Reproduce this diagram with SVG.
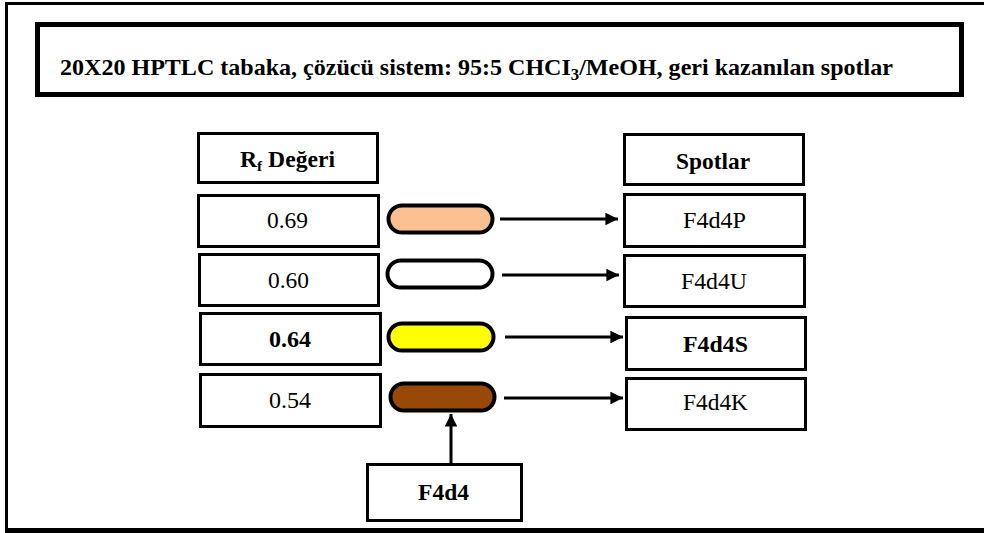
<svg xmlns="http://www.w3.org/2000/svg" width="984" height="533" viewBox="0 0 984 533">
<style>
.box{fill:#fff;stroke:#000;stroke-width:3}
.pill{stroke:#000;stroke-width:4}
.t{font-family:"Liberation Serif","Times New Roman",serif;font-size:23px;fill:#000}
.b{font-weight:bold}
.c{fill:none;stroke:#000;stroke-width:3}
</style>
<defs>
<marker id="ah" viewBox="0 0 10 10" refX="10" refY="5" markerWidth="4.8" markerHeight="4.2" orient="auto" markerUnits="strokeWidth">
<path d="M0,0 L10,5 L0,10 Z" fill="#000"/>
</marker>
</defs>
<rect x="6.5" y="3.5" width="990" height="526" fill="#fff" stroke="#000" stroke-width="3"/>
<line x1="5" y1="531" x2="984" y2="531" stroke="#000" stroke-width="4"/>
<g id="title">
<rect x="37.5" y="24.5" width="924" height="70" fill="#fff" stroke="#000" stroke-width="5"/>
<text class="t b" x="60" y="75" font-size="24" textLength="833" lengthAdjust="spacingAndGlyphs">20X20 HPTLC tabaka, çözücü sistem: 95:5 CHCI<tspan font-size="16" dy="5">3</tspan><tspan dy="-5">/MeOH, geri kazanılan spotlar</tspan></text>
</g>
<g id="rf-header">
<rect class="box" x="198.5" y="133.5" width="179" height="49"/>
<text class="t b" x="240" y="167" textLength="95" lengthAdjust="spacingAndGlyphs">R<tspan font-size="15" dy="4">f</tspan><tspan dy="-4"> Değeri</tspan></text>
</g>
<g id="rf-069">
<rect class="box" x="198.5" y="195.5" width="180" height="51"/>
<text class="t" x="267" y="228" textLength="41" lengthAdjust="spacingAndGlyphs">0.69</text>
</g>
<g id="rf-060">
<rect class="box" x="199.5" y="254.5" width="179" height="51"/>
<text class="t" x="268" y="288" textLength="41" lengthAdjust="spacingAndGlyphs">0.60</text>
</g>
<g id="rf-064">
<rect class="box" x="200.5" y="313.5" width="180" height="51"/>
<text class="t b" x="269" y="347" textLength="42" lengthAdjust="spacingAndGlyphs">0.64</text>
</g>
<g id="rf-054">
<rect class="box" x="200.5" y="374.5" width="180" height="52"/>
<text class="t" x="269" y="408" textLength="42" lengthAdjust="spacingAndGlyphs">0.54</text>
</g>
<g id="spot-orange"><rect class="pill" x="388.5" y="205.5" width="104" height="27" rx="13.5" fill="#FAC090"/></g>
<g id="spot-white"><rect class="pill" x="387.5" y="260.5" width="105" height="27" rx="13.5" fill="#fff"/></g>
<g id="spot-yellow"><rect class="pill" x="388.5" y="323.5" width="105" height="27" rx="13.5" fill="#FFFF00"/></g>
<g id="spot-brown"><rect class="pill" x="390.5" y="383.5" width="104" height="27" rx="13.5" fill="#984807"/></g>
<g id="spotlar-header">
<rect class="box" x="624.5" y="134.5" width="179" height="50"/>
<text class="t b" x="676" y="169" textLength="74" lengthAdjust="spacingAndGlyphs">Spotlar</text>
</g>
<g id="F4d4P">
<rect class="box" x="624.5" y="194.5" width="180" height="52"/>
<text class="t" x="683" y="228" textLength="63" lengthAdjust="spacingAndGlyphs">F4d4P</text>
</g>
<g id="F4d4U">
<rect class="box" x="624.5" y="255.5" width="180" height="51"/>
<text class="t" x="681" y="289" textLength="66" lengthAdjust="spacingAndGlyphs">F4d4U</text>
</g>
<g id="F4d4S">
<rect class="box" x="626.5" y="317.5" width="179" height="52"/>
<text class="t b" x="683" y="352" textLength="65" lengthAdjust="spacingAndGlyphs">F4d4S</text>
</g>
<g id="F4d4K">
<rect class="box" x="626.5" y="378.5" width="179" height="51"/>
<text class="t" x="683" y="410" textLength="65" lengthAdjust="spacingAndGlyphs">F4d4K</text>
</g>
<g id="F4d4">
<rect class="box" x="367.5" y="464.5" width="154" height="56"/>
<text class="t b" x="418" y="500" textLength="51" lengthAdjust="spacingAndGlyphs">F4d4</text>
</g>
<g id="connectors">
<line class="c" x1="500" y1="219" x2="618" y2="219" marker-end="url(#ah)"/>
<line class="c" x1="502" y1="275" x2="619" y2="275" marker-end="url(#ah)"/>
<line class="c" x1="505" y1="337" x2="623" y2="337" marker-end="url(#ah)"/>
<line class="c" x1="504" y1="398" x2="623" y2="398" marker-end="url(#ah)"/>
<line class="c" x1="451" y1="463" x2="451" y2="414" marker-end="url(#ah)"/>
</g>
</svg>
